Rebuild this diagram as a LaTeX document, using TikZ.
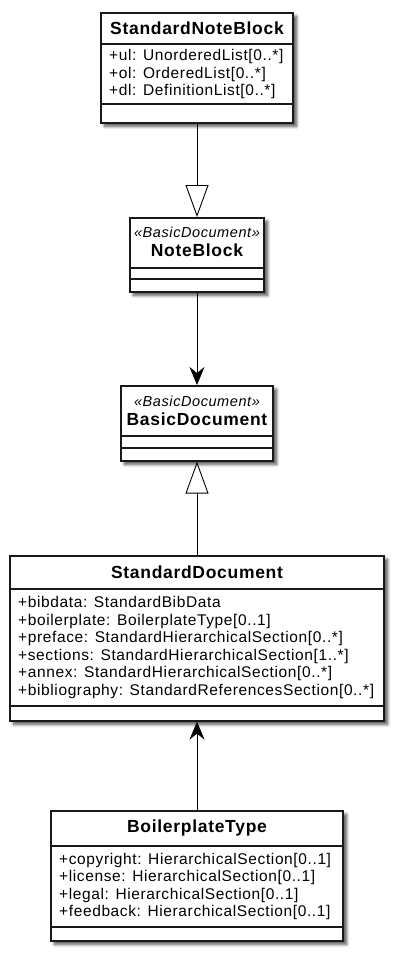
\documentclass[tikz,border=0pt]{standalone}
\usepackage{fontspec}
\setmainfont{Liberation Sans}
\newfontfamily\umlfont[LetterSpace=4]{Liberation Sans}
\usetikzlibrary{arrows.meta,shadows.blur}

\begin{document}
\begin{tikzpicture}[x=1pt,y=-1pt,
	classbox/.style={draw=black!90,line width=1.6pt,fill=white,
		blur shadow={shadow xshift=3.5pt,shadow yshift=-3.5pt,shadow blur radius=3pt,shadow blur steps=8,shadow opacity=70}},
	classname/.style={font=\umlfont\bfseries\fontsize{17.5}{20}\selectfont,inner sep=0pt},
	stereo/.style={font=\umlfont\itshape\fontsize{14.5}{16}\selectfont,inner sep=0pt},
	attrs/.style={font=\umlfont\fontsize{15.5}{17.5}\selectfont,align=left,inner sep=0pt,anchor=west},
	sep/.style={line width=1.3pt,black!90},
	gen/.style={-{Triangle[open,length=32pt,width=23pt]},line width=0.9pt},
	dep/.style={-{Stealth[length=18pt,width=15pt,inset=6pt]},line width=0.9pt}]
	\useasboundingbox (0,0) rectangle (401,954);

	\node[classbox,minimum width=192pt,minimum height=110pt,anchor=north] (snb) at (197,12) {};
	\draw[sep] (snb.west |- 0,44) -- (snb.east |- 0,44);
	\draw[sep] (snb.west |- 0,104) -- (snb.east |- 0,104);
	\node[classname] (snbname) at (197,28) {StandardNoteBlock};
	\node[attrs] (snbattrs) at (109,74) {+ul: UnorderedList[0..*]\\+ol: OrderedList[0..*]\\+dl: DefinitionList[0..*]};

	\node[classbox,minimum width=134pt,minimum height=74pt,anchor=north] (nb) at (197,217) {};
	\draw[sep] (nb.west |- 0,268) -- (nb.east |- 0,268);
	\draw[sep] (nb.west |- 0,279) -- (nb.east |- 0,279);
	\node[stereo] (nbstereo) at (197,232) {«BasicDocument»};
	\node[classname] (nbname) at (197,250) {NoteBlock};

	\node[classbox,minimum width=152pt,minimum height=75pt,anchor=north] (bd) at (197,385) {};
	\draw[sep] (bd.west |- 0,436) -- (bd.east |- 0,436);
	\draw[sep] (bd.west |- 0,448) -- (bd.east |- 0,448);
	\node[stereo] (bdstereo) at (197,401) {«BasicDocument»};
	\node[classname] (bdname) at (197,419) {BasicDocument};

	\node[classbox,minimum width=374pt,minimum height=165pt,anchor=north] (sd) at (197,555) {};
	\draw[sep] (sd.west |- 0,589) -- (sd.east |- 0,589);
	\draw[sep] (sd.west |- 0,706) -- (sd.east |- 0,706);
	\node[classname] (sdname) at (197,572) {StandardDocument};
	\node[attrs] (sdattrs) at (18,647.5) {+bibdata: StandardBibData\\+boilerplate: BoilerplateType[0..1]\\+preface: StandardHierarchicalSection[0..*]\\+sections: StandardHierarchicalSection[1..*]\\+annex: StandardHierarchicalSection[0..*]\\+bibliography: StandardReferencesSection[0..*]};

	\node[classbox,minimum width=292pt,minimum height=130pt,anchor=north] (bt) at (197,810) {};
	\draw[sep] (bt.west |- 0,846) -- (bt.east |- 0,846);
	\draw[sep] (bt.west |- 0,927) -- (bt.east |- 0,927);
	\node[classname] (btname) at (197,828) {BoilerplateType};
	\node[attrs] (btattrs) at (59,886.5) {+copyright: HierarchicalSection[0..1]\\+license: HierarchicalSection[0..1]\\+legal: HierarchicalSection[0..1]\\+feedback: HierarchicalSection[0..1]};

	\draw[gen] (snb) -- (nb);
	\draw[dep] (nb) -- (bd);
	\draw[gen] (sd) -- (bd);
	\draw[dep] (bt) -- (sd);
\end{tikzpicture}
\end{document}
